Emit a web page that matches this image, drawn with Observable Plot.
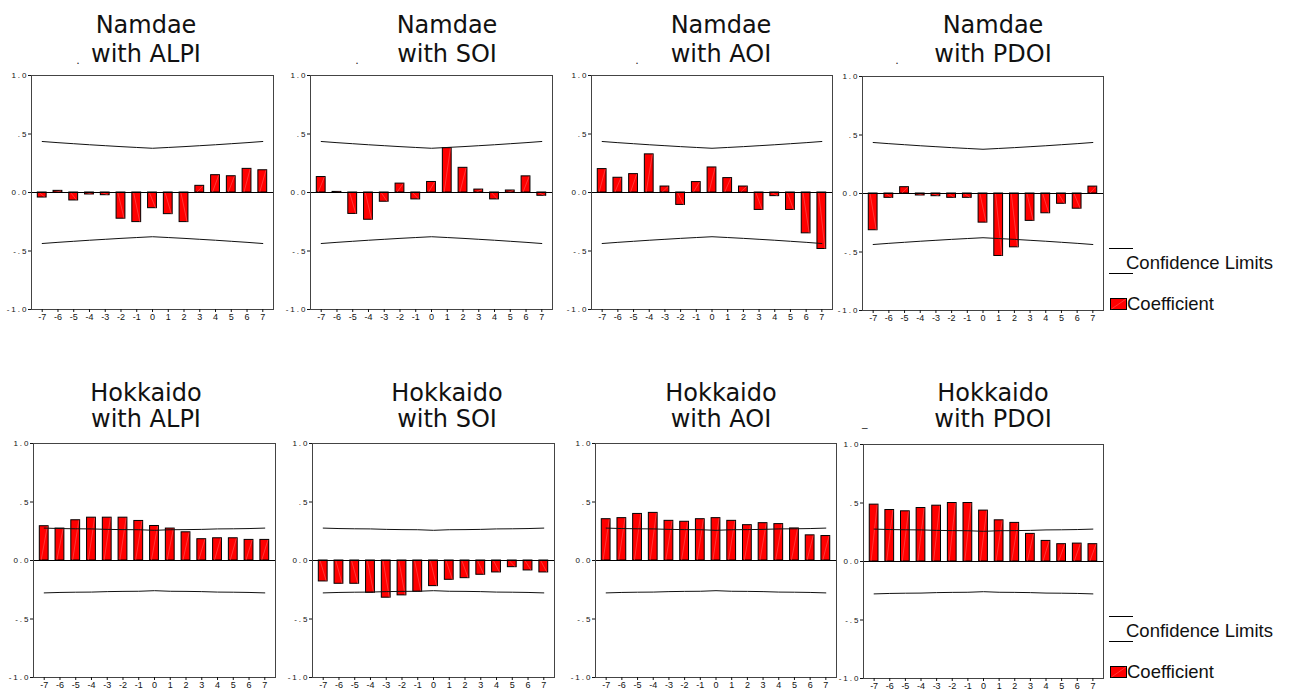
<!DOCTYPE html>
<html>
<head>
<meta charset="utf-8">
<script src="https://cdn.jsdelivr.net/npm/d3@7"></script>
<script src="https://cdn.jsdelivr.net/npm/@observablehq/plot@0.6"></script>
<style>
  body { margin: 0; background: #fff; }
  #root { position: relative; width: 1291px; height: 689px; overflow: hidden; background: #fff; }
  .panel { position: absolute; }
  .panel svg { overflow: visible; }
  g[aria-label="y-axis tick label"] text { font-size: 8px; letter-spacing: 2px; }
  #overlay { position: absolute; left: 0; top: 0; pointer-events: none; }
</style>
</head>
<body>
<div id="root"></div>
<script>
// ---------- data ----------
const lags = [-7, -6, -5, -4, -3, -2, -1, 0, 1, 2, 3, 4, 5, 6, 7];
const yTicks = [-1, -0.5, 0, 0.5, 1];
const yTickLabels = ["-1.0", "-.5", "0.0", ".5", "1.0"];
const sites = ["Namdae", "Hokkaido"];
const indices = ["ALPI", "SOI", "AOI", "PDOI"];
const legendLabels = ["Confidence Limits", "Coefficient"];

const namdaeALPI = [-0.043, 0.014, -0.068, -0.017, -0.023, -0.224, -0.253, -0.134, -0.185, -0.253, 0.057, 0.148, 0.139, 0.202, 0.190];
const namdaeSOI  = [0.132, 0.005, -0.183, -0.233, -0.079, 0.076, -0.059, 0.090, 0.379, 0.211, 0.025, -0.059, 0.017, 0.138, -0.028];
const namdaeAOI  = [0.200, 0.126, 0.157, 0.326, 0.051, -0.106, 0.089, 0.214, 0.123, 0.051, -0.149, -0.031, -0.149, -0.349, -0.483];
const namdaePDOI = [-0.314, -0.037, 0.054, -0.017, -0.023, -0.037, -0.037, -0.249, -0.534, -0.460, -0.234, -0.169, -0.088, -0.130, 0.059];

const hokkaidoALPI = [0.293, 0.273, 0.344, 0.366, 0.366, 0.366, 0.338, 0.295, 0.273, 0.241, 0.182, 0.190, 0.190, 0.176, 0.176];
const hokkaidoSOI  = [-0.179, -0.199, -0.199, -0.276, -0.318, -0.298, -0.267, -0.219, -0.165, -0.151, -0.122, -0.102, -0.057, -0.085, -0.102];
const hokkaidoAOI  = [0.353, 0.362, 0.398, 0.407, 0.339, 0.331, 0.353, 0.362, 0.339, 0.302, 0.319, 0.311, 0.274, 0.215, 0.209];
const hokkaidoPDOI = [0.486, 0.440, 0.429, 0.457, 0.477, 0.500, 0.500, 0.435, 0.352, 0.330, 0.236, 0.176, 0.148, 0.153, 0.148];

const ciNamdae   = [0.436, 0.426, 0.417, 0.408, 0.400, 0.392, 0.385, 0.378, 0.385, 0.392, 0.400, 0.408, 0.417, 0.426, 0.436];
const ciHokkaido = [0.277, 0.273, 0.271, 0.270, 0.266, 0.264, 0.263, 0.258, 0.263, 0.264, 0.266, 0.270, 0.271, 0.273, 0.277];

const seriesBySite = [
  [namdaeALPI, namdaeSOI, namdaeAOI, namdaePDOI],
  [hokkaidoALPI, hokkaidoSOI, hokkaidoAOI, hokkaidoPDOI]
];
const ciBySite = [ciNamdae, ciHokkaido];

// ---------- layout (positions / styles) ----------
const frames = [
  [[31, 75, 242], [310, 75, 242], [591, 74.5, 241], [862, 75.5, 241]],
  [[33, 442.5, 242], [311.5, 442.5, 242], [595, 443, 241], [863, 444, 240]]
];
const frameH = 234;
const mL = 31, mR = 4, mT = 4, mB = 22;
const halfW = 0.28;
const titleCenters = [146, 447, 721, 993];
const titleBaselines = [[33, 62], [401, 427]];
const legendTop = [248, 616];

const root = document.getElementById("root");

function makePanel(values, ci, fw) {
  const bars = lags.map((lag, i) => ({lag, value: values[i]}));
  const ciData = lags.map((lag, i) => ({lag, upper: ci[i], lower: -ci[i]}));
  return Plot.plot({
    width: fw + mL + mR,
    height: frameH + mT + mB,
    marginLeft: mL, marginRight: mR, marginTop: mT, marginBottom: mB,
    x: {domain: [-7.68, 7.68]},
    y: {domain: [-1, 1]},
    style: {fontFamily: "'Liberation Sans', Arial, sans-serif", fontSize: "9px", color: "#111", background: "transparent"},
    marks: [
      Plot.rect(bars, {x1: d => d.lag - halfW, x2: d => d.lag + halfW, y1: 0, y2: "value", fill: "#ff0000", stroke: "#000", strokeWidth: 1}),
      Plot.link(bars, {x1: d => d.lag - halfW + 0.08, x2: d => d.lag + halfW - 0.08, y1: 0, y2: "value", stroke: "#ff6a6a", strokeWidth: 0.5}),
      Plot.ruleY([0], {stroke: "#000", strokeWidth: 1}),
      Plot.line(ciData, {x: "lag", y: "upper", stroke: "#111", strokeWidth: 1}),
      Plot.line(ciData, {x: "lag", y: "lower", stroke: "#111", strokeWidth: 1}),
      Plot.frame({stroke: "#444", strokeWidth: 1}),
      Plot.axisX({ticks: lags, tickFormat: d => String(d), tickSize: 3, tickPadding: 1, label: null}),
      Plot.axisY({ticks: yTicks, tickFormat: d => yTickLabels[yTicks.indexOf(d)], tickSize: 3, tickPadding: 0, label: null})
    ]
  });
}

for (let r = 0; r < 2; r++) {
  for (let c = 0; c < 4; c++) {
    const [fx, fy, fw] = frames[r][c];
    const div = document.createElement("div");
    div.className = "panel";
    div.style.left = (fx - mL) + "px";
    div.style.top = (fy - mT) + "px";
    div.appendChild(makePanel(seriesBySite[r][c], ciBySite[r], fw));
    root.appendChild(div);
  }
}

// ---------- titles & legends ----------
const svg = d3.select(root).append("svg")
  .attr("id", "overlay").attr("width", 1291).attr("height", 689);

for (let r = 0; r < 2; r++) {
  for (let c = 0; c < 4; c++) {
    const t = svg.append("text")
      .attr("font-family", "'DejaVu Sans', Verdana, sans-serif")
      .attr("font-size", 24)
      .attr("fill", "#111")
      .attr("text-anchor", "middle");
    t.append("tspan").attr("x", titleCenters[c]).attr("y", titleBaselines[r][0]).text(sites[r]);
    t.append("tspan").attr("x", titleCenters[c]).attr("y", titleBaselines[r][1]).text("with " + indices[c]);
  }
}

// small stray marks seen in the source image
const dotXs = [78, 357, 637, 897];
dotXs.forEach(x => svg.append("text").attr("x", x).attr("y", 64).attr("text-anchor", "middle")
  .attr("font-family", "'DejaVu Sans', sans-serif").attr("font-size", 11).attr("fill", "#222").text("."));
svg.append("text").attr("x", 862).attr("y", 426).attr("font-family", "'DejaVu Sans', sans-serif")
  .attr("font-size", 11).attr("fill", "#222").text("_");

for (let r = 0; r < 2; r++) {
  const y0 = legendTop[r];
  const g = svg.append("g");
  g.append("line").attr("x1", 1109).attr("x2", 1133).attr("y1", y0 + 0.5).attr("y2", y0 + 0.5).attr("stroke", "#000");
  g.append("line").attr("x1", 1109).attr("x2", 1133).attr("y1", y0 + 25.5).attr("y2", y0 + 25.5).attr("stroke", "#000");
  g.append("text").attr("x", 1126).attr("y", y0 + 21)
    .attr("font-family", "'Liberation Sans', Arial, sans-serif").attr("font-size", 19).attr("fill", "#111")
    .attr("textLength", 147).attr("lengthAdjust", "spacingAndGlyphs").text(legendLabels[0]);
  g.append("rect").attr("x", 1110.5).attr("y", y0 + 50.5).attr("width", 16).attr("height", 11)
    .attr("fill", "#ff0000").attr("stroke", "#000");
  g.append("line").attr("x1", 1111.5).attr("y1", y0 + 61).attr("x2", 1126).attr("y2", y0 + 51)
    .attr("stroke", "#ff6a6a").attr("stroke-width", 0.5);
  g.append("text").attr("x", 1127).attr("y", y0 + 62)
    .attr("font-family", "'Liberation Sans', Arial, sans-serif").attr("font-size", 19).attr("fill", "#111")
    .attr("textLength", 87).attr("lengthAdjust", "spacingAndGlyphs").text(legendLabels[1]);
}
</script>
</body>
</html>
